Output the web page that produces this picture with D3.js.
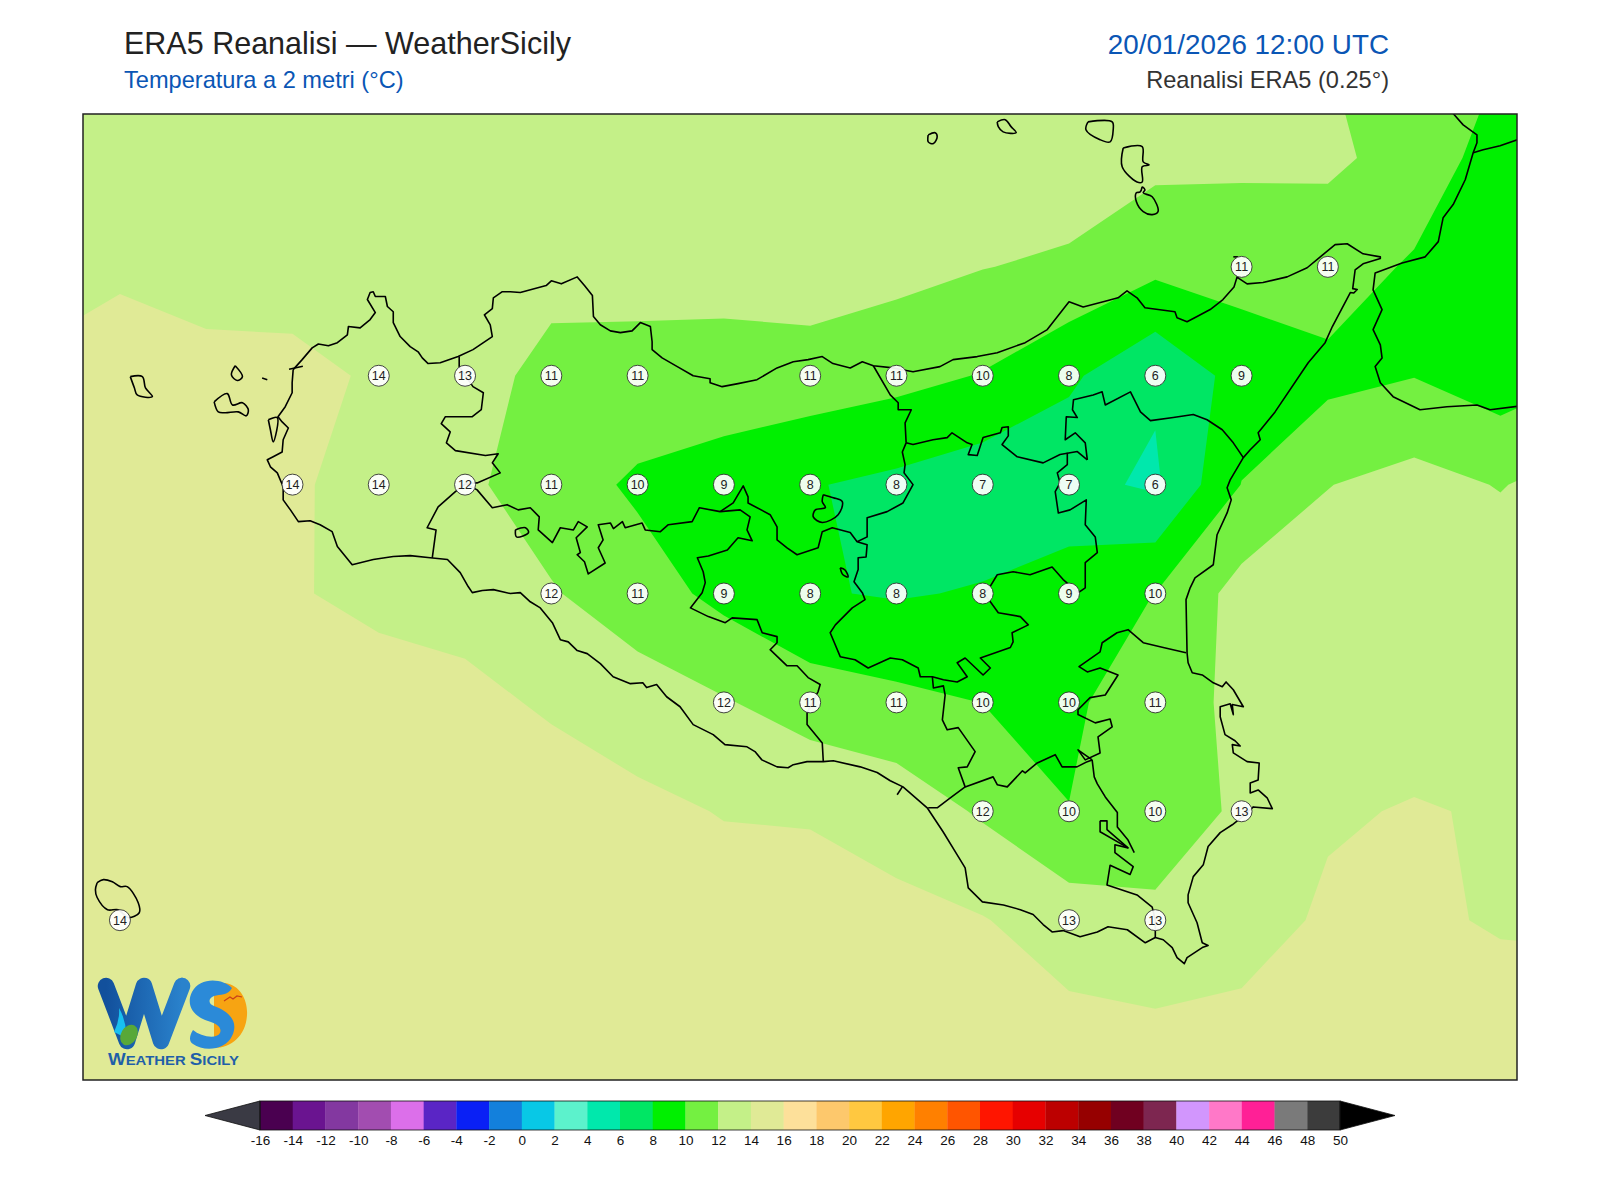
<!DOCTYPE html>
<html>
<head>
<meta charset="utf-8">
<title>ERA5 Reanalisi</title>
<script src="https://cdn.jsdelivr.net/npm/d3@7/dist/d3.min.js"></script>
<style>
  html, body { margin: 0; padding: 0; background: #fff; }
  svg { display: block; font-family: "Liberation Sans", Arial, sans-serif; }
</style>
</head>
<body>
<div id="canvas"></div>
<script>
var gridLons = [11.75,12,12.25,12.5,12.75,13,13.25,13.5,13.75,14,14.25,14.5,14.75,15,15.25,15.5,15.75,16,16.25];
var gridLats = [38.75,38.5,38.25,38,37.75,37.5,37.25,37,36.75,36.5,36.25];
var t3875 = [13,13,13,13,13,13,13,13,13,13,13,13,13,12.8,12.6,12,11.4,10.1,8.5];
var t3850 = [13,13,13,13,13,13,13,13,13,13,13,13.1,13.1,12.5,12.36,12.28,11.45,8.86,8.5];
var t3825 = [13.5,13.6,13.2,13.2,13.2,13,12.7,12.6,12.9,13.06,12.6,12.05,11.7,10.5,10.8,11.1,9.72,8.5,8.5];
var t3800 = [14.2,15.2,14.6,14.5,13.76,12.9,11.35,11.4,11,11.1,10.6,9.9,8.35,6.3,8.75,9.45,9.95,8.9,9.95];
var t3775 = [15.2,15.4,15,14.15,13.57,12.37,11,9.67,9.2,8.12,7.55,6.8,6.55,5.7,10.05,11.95,12.68,11.9,13];
var t3750 = [15.3,15.3,15,14.15,13.55,13.4,12.15,10.95,9.45,8.14,7.85,8.15,9.1,10.02,12.73,13,12.9,13.3,13.6];
var t3725 = [15.4,15.4,15.2,15,14.8,14.4,13.8,12.92,12.16,11.05,10.5,9.98,9.7,11,12.48,13.4,13,13.4,13.8];
var t3700 = [15.5,15.5,15.4,15.3,15.2,15,14.8,14.5,13.9,13.8,13.2,11.75,10.03,10.2,12.54,13.75,14.15,13.8,13.9];
var t3675 = [15.6,15.6,15.5,15.5,15.5,15.4,15.3,15.2,15,15,14.5,14.1,13.03,12.7,13,14.35,14.3,13.83,13.8];
var t3650 = [15.6,15.6,15.6,15.6,15.6,15.6,15.6,15.6,15.6,15.6,15.4,15.2,14.52,14.3,14.6,15,15,14.8,14.6];
var t3625 = [15.5,15.5,15.5,15.5,15.5,15.5,15.5,15.5,15.5,15.5,15.5,15.5,15.5,15.5,15.5,15.5,15.5,15.5,15.5];

// printed values on the white circles
var stationLon = [15.25,15.5,
  12.75,13,13.25,13.5,14,14.25,14.5,14.75,15,15.25,
  12.5,12.75,13,13.25,13.5,13.75,14,14.25,14.5,14.75,15,
  13.25,13.5,13.75,14,14.25,14.5,14.75,15,
  13.75,14,14.25,14.5,14.75,15,
  14.5,14.75,15,15.25,
  12,14.75,15];
var stationLat = [38.25,38.25,
  38,38,38,38,38,38,38,38,38,38,
  37.75,37.75,37.75,37.75,37.75,37.75,37.75,37.75,37.75,37.75,37.75,
  37.5,37.5,37.5,37.5,37.5,37.5,37.5,37.5,
  37.25,37.25,37.25,37.25,37.25,37.25,
  37,37,37,37,
  36.75,36.75,36.75];
var stationTemp = [11,11,
  14,13,11,11,11,11,10,8,6,9,
  14,14,12,11,10,9,8,8,7,7,6,
  12,11,9,8,8,8,9,10,
  12,11,11,10,10,11,
  12,10,10,13,
  14,13,13];

// colour bar
var levels = [-16,-14,-12,-10,-8,-6,-4,-2,0,2,4,6,8,10,12,14,16,18,20,22,24,26,28,30,32,34,36,38,40,42,44,46,48,50];
var levelColors = ["#4a0050","#6a1490","#8338a0","#a24db0","#dc6fea","#5a25c5","#0a20f5","#1380dc","#08c8e6","#5cf2cc","#00e8ac","#00e664","#00f000","#74f041","#c4f088","#e0ea96","#fde09a","#fdc86c","#ffc840","#ffa500","#ff8000","#ff5500","#ff1500","#e60000","#bc0000","#960000","#700020","#7d2650","#d296fd","#ff78c8","#ff2096","#7a7a7a","#3c3c3c"];
var underColor = "#3a3a44";
var overColor = "#000000";

// coast of Sicily, lon/lat, clockwise from Trapani
var coastSicily = [[12.502,38.014],[12.528,38.037],[12.557,38.064],[12.575,38.073],[12.604,38.069],[12.630,38.076],[12.659,38.094],[12.662,38.113],[12.696,38.110],[12.725,38.129],[12.740,38.145],[12.717,38.175],[12.725,38.191],[12.734,38.193],[12.740,38.182],[12.769,38.182],[12.775,38.159],[12.792,38.147],[12.792,38.122],[12.812,38.090],[12.841,38.067],[12.864,38.055],[12.876,38.041],[12.893,38.028],[12.928,38.030],[12.980,38.044],[13.023,38.060],[13.079,38.090],[13.073,38.117],[13.056,38.140],[13.079,38.154],[13.082,38.179],[13.108,38.193],[13.131,38.193],[13.160,38.191],[13.235,38.207],[13.250,38.218],[13.279,38.211],[13.325,38.227],[13.346,38.207],[13.369,38.184],[13.372,38.136],[13.392,38.117],[13.421,38.103],[13.450,38.099],[13.484,38.103],[13.508,38.122],[13.537,38.113],[13.542,38.078],[13.542,38.060],[13.571,38.041],[13.615,38.021],[13.661,38.000],[13.710,37.993],[13.710,37.984],[13.745,37.975],[13.791,37.982],[13.846,37.991],[13.904,38.018],[13.951,38.032],[13.994,38.037],[14.035,38.044],[14.066,38.028],[14.116,38.018],[14.151,38.032],[14.183,38.023],[14.240,38.018],[14.298,38.009],[14.376,38.021],[14.414,38.037],[14.484,38.044],[14.542,38.053],[14.623,38.076],[14.687,38.106],[14.750,38.170],[14.791,38.158],[14.860,38.172],[14.892,38.179],[14.918,38.195],[14.947,38.179],[14.970,38.156],[15.057,38.147],[15.063,38.133],[15.092,38.124],[15.121,38.136],[15.159,38.152],[15.196,38.175],[15.228,38.204],[15.237,38.227],[15.243,38.223],[15.266,38.211],[15.312,38.214],[15.382,38.227],[15.440,38.248],[15.478,38.273],[15.521,38.301],[15.556,38.303],[15.602,38.280],[15.652,38.273],[15.652,38.269],[15.602,38.257],[15.579,38.243],[15.572,38.200],[15.585,38.198],[15.575,38.190],[15.565,38.191],[15.513,38.113],[15.492,38.076],[15.443,38.030],[15.347,37.917],[15.298,37.869],[15.304,37.853],[15.275,37.830],[15.255,37.812],[15.217,37.761],[15.208,37.743],[15.220,37.715],[15.208,37.685],[15.179,37.635],[15.168,37.566],[15.115,37.536],[15.101,37.513],[15.089,37.486],[15.092,37.364],[15.095,37.341],[15.107,37.318],[15.136,37.313],[15.168,37.295],[15.194,37.286],[15.205,37.297],[15.226,37.279],[15.255,37.240],[15.223,37.245],[15.226,37.222],[15.217,37.247],[15.188,37.240],[15.188,37.217],[15.202,37.176],[15.231,37.162],[15.246,37.150],[15.223,37.153],[15.226,37.134],[15.266,37.114],[15.301,37.111],[15.298,37.072],[15.275,37.065],[15.275,37.042],[15.298,37.049],[15.324,37.031],[15.339,37.006],[15.284,37.010],[15.252,36.987],[15.223,36.969],[15.188,36.951],[15.153,36.919],[15.139,36.877],[15.110,36.850],[15.095,36.808],[15.095,36.790],[15.121,36.744],[15.136,36.698],[15.153,36.692],[15.136,36.687],[15.092,36.664],[15.084,36.650],[15.063,36.664],[15.049,36.687],[15.023,36.705],[15.000,36.710],[14.971,36.698],[14.919,36.728],[14.863,36.735],[14.832,36.723],[14.782,36.712],[14.733,36.726],[14.701,36.723],[14.675,36.740],[14.646,36.763],[14.609,36.774],[14.560,36.785],[14.499,36.792],[14.458,36.824],[14.449,36.870],[14.426,36.900],[14.385,36.953],[14.339,37.008],[14.269,37.056],[14.232,37.070],[14.194,37.089],[14.145,37.102],[14.067,37.116],[14.038,37.114],[13.991,37.114],[13.951,37.107],[13.936,37.100],[13.904,37.102],[13.860,37.118],[13.840,37.137],[13.817,37.148],[13.753,37.153],[13.719,37.176],[13.661,37.199],[13.623,37.240],[13.584,37.263],[13.555,37.291],[13.526,37.284],[13.515,37.295],[13.479,37.293],[13.429,37.309],[13.392,37.339],[13.354,37.362],[13.325,37.369],[13.299,37.389],[13.276,37.394],[13.253,37.433],[13.218,37.467],[13.189,37.481],[13.160,37.502],[13.131,37.500],[13.082,37.509],[13.050,37.507],[13.021,37.502],[13.009,37.516],[12.986,37.548],[12.949,37.578],[12.899,37.582],[12.841,37.587],[12.792,37.585],[12.734,37.578],[12.673,37.566],[12.630,37.608],[12.615,37.642],[12.580,37.658],[12.551,37.667],[12.517,37.665],[12.494,37.692],[12.473,37.715],[12.473,37.745],[12.456,37.777],[12.436,37.791],[12.427,37.807],[12.444,37.814],[12.470,37.825],[12.473,37.853],[12.488,37.880],[12.470,37.894],[12.458,37.906],[12.479,37.929],[12.499,37.961],[12.499,37.984],[12.502,38.014]];
var coastCalabria = [[15.863,38.602],[15.892,38.576],[15.932,38.553],[15.932,38.535],[15.921,38.512],[15.898,38.450],[15.863,38.393],[15.834,38.363],[15.820,38.308],[15.782,38.273],[15.715,38.259],[15.637,38.236],[15.631,38.197],[15.657,38.152],[15.631,38.106],[15.652,38.071],[15.657,38.041],[15.637,38.021],[15.652,37.984],[15.689,37.952],[15.767,37.922],[15.845,37.929],[15.932,37.933],[15.970,37.922],[16.060,37.931]];
var borderCalabria = [[15.921,38.512],[15.950,38.519],[15.999,38.528],[16.060,38.545]];
var spitTrapani = [[12.490,38.015],[12.530,38.022]];
var spitMilazzo = [[15.226,38.273],[15.240,38.273]];

// islands and lakes, drawn rounded
var islandMarettimo = [[12.030,37.998],[12.065,37.998],[12.074,37.972],[12.094,37.952],[12.050,37.956],[12.042,37.972],[12.030,37.998]];
var islandFavignana = [[12.273,37.940],[12.311,37.959],[12.326,37.933],[12.355,37.938],[12.372,37.922],[12.366,37.908],[12.343,37.917],[12.305,37.915],[12.285,37.917],[12.273,37.940]];
var islandLevanzo = [[12.334,38.023],[12.355,37.998],[12.340,37.989],[12.323,38.002],[12.334,38.023]];
var islandFormica = [[12.412,37.995],[12.427,37.991]];
var islandStagnone = [[12.430,37.899],[12.456,37.904],[12.444,37.848],[12.436,37.876],[12.430,37.899]];
var islandAlicudi = [[14.342,38.553],[14.362,38.558],[14.368,38.549],[14.357,38.533],[14.342,38.537],[14.342,38.553]];
var islandFilicudi = [[14.542,38.583],[14.565,38.588],[14.582,38.572],[14.597,38.558],[14.559,38.560],[14.545,38.572],[14.542,38.583]];
var islandSalina = [[14.805,38.583],[14.875,38.583],[14.878,38.565],[14.869,38.537],[14.840,38.542],[14.799,38.565],[14.805,38.583]];
var islandLipari = [[14.907,38.523],[14.962,38.526],[14.965,38.491],[14.982,38.484],[14.962,38.480],[14.962,38.445],[14.947,38.445],[14.904,38.480],[14.907,38.523]];
var islandVulcano = [[14.962,38.434],[14.970,38.427],[14.965,38.420],[14.991,38.411],[15.008,38.377],[14.991,38.370],[14.965,38.377],[14.945,38.400],[14.945,38.420],[14.956,38.422],[14.962,38.434]];
var islandPantelleria = [[11.934,36.836],[11.952,36.843],[11.978,36.838],[12.001,36.827],[12.021,36.827],[12.053,36.790],[12.056,36.767],[12.024,36.756],[11.995,36.774],[11.964,36.774],[11.934,36.802],[11.929,36.820],[11.934,36.836]];
var lakeArancio = [[13.146,37.646],[13.175,37.651],[13.184,37.640],[13.149,37.630],[13.146,37.646]];
var lakePergusa = [[14.087,37.559],[14.101,37.554],[14.110,37.538],[14.095,37.543],[14.087,37.559]];
var enclaveEnna = [[14.038,37.727],[14.067,37.720],[14.093,37.711],[14.081,37.681],[14.035,37.663],[14.009,37.676],[14.015,37.692],[14.044,37.697],[14.035,37.711],[14.038,37.727]];
var tickGela = [[14.252,37.038],[14.267,37.056]];

// province borders
var borderTpPa = [[12.983,38.044],[12.983,38.021],[13.023,37.975],[13.053,37.961],[13.047,37.922],[13.021,37.906],[12.995,37.906],[12.943,37.906],[12.931,37.890],[12.957,37.871],[12.946,37.846],[12.972,37.828],[13.059,37.817],[13.096,37.821],[13.079,37.800],[13.102,37.777],[13.035,37.754],[13.001,37.752]];
var borderTpAg = [[13.001,37.752],[12.972,37.734],[12.922,37.699],[12.890,37.651],[12.916,37.646],[12.905,37.582]];
var borderPaAg = [[13.001,37.752],[13.035,37.738],[13.079,37.697],[13.122,37.704],[13.154,37.692],[13.189,37.697],[13.215,37.676],[13.212,37.646],[13.253,37.617],[13.276,37.651],[13.314,37.646],[13.328,37.665],[13.354,37.653],[13.322,37.628],[13.334,37.594],[13.325,37.589],[13.346,37.573],[13.357,37.545],[13.406,37.570],[13.386,37.605],[13.400,37.623],[13.386,37.658],[13.421,37.662],[13.430,37.649],[13.456,37.665],[13.464,37.651],[13.513,37.662],[13.522,37.646],[13.566,37.642],[13.589,37.658],[13.658,37.665],[13.679,37.697],[13.739,37.688]];
var borderPaCl = [[13.739,37.688],[13.777,37.708],[13.806,37.747],[13.820,37.722],[13.820,37.708],[13.884,37.681],[13.904,37.653],[13.904,37.623],[13.933,37.605],[13.962,37.589],[14.023,37.605],[14.035,37.642],[14.064,37.651],[14.116,37.640],[14.136,37.619]];
var borderAgCl = [[13.739,37.688],[13.797,37.692],[13.826,37.676],[13.817,37.646],[13.832,37.621],[13.791,37.628],[13.760,37.600],[13.705,37.586],[13.673,37.582],[13.690,37.550],[13.696,37.525],[13.687,37.502],[13.653,37.467],[13.705,37.447],[13.754,37.433],[13.774,37.444],[13.846,37.440],[13.861,37.410],[13.904,37.401],[13.904,37.387],[13.884,37.371],[13.933,37.334],[13.962,37.334],[13.994,37.307],[14.029,37.291],[14.023,37.275],[13.991,37.226],[13.991,37.199],[14.035,37.157],[14.038,37.114]];
var borderPaMe = [[14.183,38.023],[14.232,37.956],[14.255,37.938],[14.255,37.922],[14.293,37.922],[14.275,37.892],[14.278,37.846]];
var borderMeEn = [[14.278,37.846],[14.298,37.842],[14.356,37.853],[14.397,37.858],[14.411,37.869],[14.455,37.846],[14.469,37.842],[14.458,37.819],[14.484,37.817],[14.501,37.858],[14.551,37.869],[14.556,37.881],[14.574,37.883],[14.574,37.862],[14.556,37.842],[14.600,37.814],[14.675,37.800],[14.724,37.819],[14.774,37.826],[14.803,37.807]];
var borderMeCt = [[14.803,37.807],[14.797,37.846],[14.768,37.869],[14.739,37.853],[14.742,37.906],[14.774,37.904],[14.760,37.922],[14.763,37.945],[14.820,37.956],[14.846,37.963],[14.855,37.933],[14.928,37.963],[14.957,37.917],[14.986,37.897],[15.052,37.904],[15.110,37.911],[15.150,37.899],[15.194,37.876],[15.226,37.846],[15.255,37.812]];
var borderEnCl = [[14.278,37.846],[14.267,37.825],[14.275,37.796],[14.272,37.777],[14.298,37.750],[14.269,37.708],[14.223,37.688],[14.165,37.674],[14.165,37.630],[14.136,37.619],[14.165,37.612],[14.162,37.584],[14.139,37.582],[14.139,37.555],[14.127,37.527],[14.151,37.502],[14.159,37.486],[14.122,37.467],[14.073,37.428],[14.058,37.410],[14.087,37.355],[14.130,37.348],[14.168,37.329],[14.232,37.352],[14.267,37.348],[14.313,37.329],[14.319,37.309],[14.354,37.309],[14.386,37.302],[14.426,37.297],[14.455,37.309],[14.426,37.341],[14.449,37.352],[14.501,37.313],[14.522,37.329],[14.493,37.352],[14.580,37.376],[14.588,37.389],[14.585,37.410],[14.632,37.428],[14.609,37.447],[14.545,37.456],[14.522,37.481],[14.501,37.502],[14.516,37.509],[14.542,37.543],[14.588,37.550],[14.637,37.543],[14.701,37.561],[14.733,37.532],[14.777,37.502],[14.797,37.513],[14.797,37.571],[14.832,37.594],[14.826,37.630],[14.797,37.658],[14.800,37.715],[14.753,37.692],[14.719,37.685],[14.710,37.734],[14.724,37.754],[14.716,37.777],[14.745,37.796],[14.745,37.823]];
var borderClRg = [[14.354,37.309],[14.357,37.283],[14.386,37.288],[14.391,37.267],[14.383,37.210],[14.397,37.187],[14.429,37.192],[14.478,37.137],[14.455,37.102],[14.429,37.100],[14.449,37.056],[14.406,37.031],[14.368,37.008],[14.342,37.008]];
var borderRgCt = [[14.449,37.056],[14.530,37.079],[14.542,37.061],[14.571,37.056],[14.615,37.093],[14.623,37.088],[14.658,37.111],[14.710,37.130],[14.730,37.102],[14.773,37.102],[14.803,37.114],[14.817,37.118]];
var borderCtSr = [[15.089,37.364],[15.023,37.376],[14.965,37.387],[14.921,37.417],[14.889,37.410],[14.846,37.387],[14.840,37.366],[14.779,37.332],[14.803,37.320],[14.840,37.329],[14.892,37.313],[14.855,37.267],[14.811,37.261],[14.776,37.233],[14.776,37.222],[14.826,37.203],[14.869,37.212],[14.875,37.194],[14.834,37.171],[14.840,37.134],[14.797,37.118],[14.776,37.141],[14.817,37.118]];
var borderRgSr = [[14.817,37.118],[14.823,37.079],[14.832,37.063],[14.855,37.033],[14.890,36.997],[14.890,36.964],[14.921,36.934],[14.939,36.905]];
var borderSrSouth = [[14.840,36.978],[14.860,36.978],[14.860,36.958],[14.921,36.916],[14.883,36.923],[14.883,36.905],[14.936,36.873],[14.927,36.855],[14.869,36.876],[14.860,36.831],[14.947,36.808],[14.991,36.780],[15.000,36.750],[15.000,36.710]];
var lagoonSr = [[14.840,36.978],[14.840,36.953],[14.921,36.916]];

var mapLines = [coastSicily, coastCalabria, borderCalabria, spitTrapani, spitMilazzo, tickGela,
  borderTpPa, borderTpAg, borderPaAg, borderPaCl, borderAgCl, borderPaMe, borderMeEn, borderMeCt, borderEnCl, borderClRg, borderRgCt, borderCtSr, borderRgSr, borderSrSouth, lagoonSr];
var roundLines = [islandMarettimo, islandFavignana, islandLevanzo, islandFormica, islandStagnone,
  islandAlicudi, islandFilicudi, islandSalina, islandLipari, islandVulcano, islandPantelleria, lakeArancio, lakePergusa, enclaveEnna];

var width = 1600, height = 1200;
var body = d3.select("#canvas").append("svg").attr("width", width).attr("height", height);

//map frame in page pixels
var frame = {left: 83, right: 1517, top: 114, bottom: 1080};
var xScale = d3.scaleLinear().domain([11.893, 16.048]).range([frame.left, frame.right]);
var yScale = d3.scaleLinear().domain([38.601, 36.383]).range([frame.top, frame.bottom]);

body.append("clipPath").attr("id", "mapclip").append("rect")
    .attr("x", frame.left).attr("y", frame.top)
    .attr("width", frame.right - frame.left).attr("height", frame.bottom - frame.top);
var map = body.append("g").attr("clip-path", "url(#mapclip)");

//filled contours from the temperature grid
var rows = [t3875, t3850, t3825, t3800, t3775, t3750, t3725, t3700, t3675, t3650, t3625];
var flat = [].concat.apply([], rows);
var contours = d3.contours().size([gridLons.length, gridLats.length]).thresholds(levels.slice(0, -1))(flat);
var gridPath = d3.geoPath(d3.geoTransform({
  point: function(x, y){
    this.stream.point(xScale(gridLons[0] + (x - 0.5) * 0.25), yScale(gridLats[0] - (y - 0.5) * 0.25));
  }
}));
var colorOf = d3.scaleOrdinal().domain(levels.slice(0, -1)).range(levelColors);
map.selectAll("path.band").data(contours.filter(function(d){ return d.coordinates.length > 0; })).enter()
   .append("path")
   .attr("class", "band")
   .attr("d", gridPath)
   .attr("fill", function(d){ return colorOf(d.value); });

//coast and province lines
var genLine = d3.line().x(function(d){ return xScale(d[0]); }).y(function(d){ return yScale(d[1]); });
var genRound = d3.line().curve(d3.curveCatmullRom).x(function(d){ return xScale(d[0]); }).y(function(d){ return yScale(d[1]); });
map.selectAll("path.coast").data(mapLines).enter()
   .append("path")
   .attr("class", "coast")
   .attr("d", genLine)
   .attr("fill", "none")
   .attr("stroke", "#000")
   .attr("stroke-width", 1.6)
   .attr("stroke-linejoin", "round");
map.selectAll("path.island").data(roundLines).enter()
   .append("path")
   .attr("class", "island")
   .attr("d", genRound)
   .attr("fill", "none")
   .attr("stroke", "#000")
   .attr("stroke-width", 1.6);

//station circles
var stations = stationTemp.map(function(t, i){ return {lon: stationLon[i], lat: stationLat[i], temp: t}; });
var nodes = map.selectAll("g.station").data(stations).enter().append("g").attr("class", "station")
   .attr("transform", function(d){ return "translate(" + xScale(d.lon) + "," + yScale(d.lat) + ")"; });
nodes.append("circle").attr("r", 10.5).attr("fill", "#fff").attr("fill-opacity", 0.93).attr("stroke", "#333").attr("stroke-width", 0.9);
nodes.append("text").attr("text-anchor", "middle").attr("y", 4.5).attr("font-size", 12.5).attr("fill", "#222").text(function(d){ return d.temp; });

//logo, bottom left
var logo = body.append("g");
var logoGrad = body.append("linearGradient").attr("id", "wgrad").attr("x1", 0).attr("x2", 1).attr("y1", 0).attr("y2", 0);
logoGrad.append("stop").attr("offset", "0%").attr("stop-color", "#12509c");
logoGrad.append("stop").attr("offset", "100%").attr("stop-color", "#2a82cc");
logo.append("path").attr("d", "M225 983 C240 985 248 1000 247 1015 C246 1035 232 1048 214 1048 L214 985 Z").attr("fill", "#f7a412");
logo.append("path").attr("d", "M106 986 L127 1041 L144 986 L161 1041 L182 986 M182 986 L182.1 986")
    .attr("fill", "none").attr("stroke", "url(#wgrad)").attr("stroke-width", 16.5).attr("stroke-linejoin", "round").attr("stroke-linecap", "round");
logo.append("path").attr("d", "M114 1032 q6 -12 5 -24 q8 14 7 30 z").attr("fill", "#18c0f0");
logo.append("ellipse").attr("cx", 129).attr("cy", 1035).attr("rx", 8).attr("ry", 11).attr("fill", "#58a838").attr("transform", "rotate(30 129 1035)");
logo.append("path").attr("d", "M232 988 C222 978 200 977 192 992 C186 1004 192 1016 208 1021 C218 1024 222 1028 220 1033 C216 1040 200 1036 193 1030 C189 1036 189 1042 193 1044 C204 1052 226 1050 232 1036 C240 1020 226 1010 214 1006 C208 1004 208 998 214 996 C220 994 228 996 232 988 Z")
    .attr("fill", "#2b8ad8");
logo.append("path").attr("d", "M224 1001 l6 -4 l3 2 l4 -3 l5 1").attr("fill", "none").attr("stroke", "#c8401a").attr("stroke-width", 1.2);
var logoText = logo.append("text").attr("x", 108).attr("y", 1065).attr("font-weight", "bold").attr("fill", "#1f5fa8").attr("font-size", 13.5)
    .attr("textLength", 131).attr("lengthAdjust", "spacingAndGlyphs");
logoText.append("tspan").attr("font-size", 17).text("W");
logoText.append("tspan").text("EATHER ");
logoText.append("tspan").attr("font-size", 17).text("S");
logoText.append("tspan").text("ICILY");

//frame on top of the map
body.append("rect")
    .attr("x", frame.left).attr("y", frame.top)
    .attr("width", frame.right - frame.left).attr("height", frame.bottom - frame.top)
    .attr("fill", "none").attr("stroke", "#222").attr("stroke-width", 1.5);

//titles
body.append("text").attr("x", 124).attr("y", 54).attr("font-size", 30.5).attr("fill", "#222").text("ERA5 Reanalisi — WeatherSicily");
body.append("text").attr("x", 124).attr("y", 88).attr("font-size", 23.6).attr("fill", "#0a56b5").text("Temperatura a 2 metri (°C)");
body.append("text").attr("x", 1389).attr("y", 54).attr("text-anchor", "end").attr("font-size", 27.8).attr("fill", "#0a56b5").text("20/01/2026 12:00 UTC");
body.append("text").attr("x", 1389).attr("y", 88).attr("text-anchor", "end").attr("font-size", 23.6).attr("fill", "#333").text("Reanalisi ERA5 (0.25°)");

//colour bar with the two end arrows
var barTop = 1101, barBottom = 1130;
var barScale = d3.scaleLinear().domain([-16, 50]).range([260, 1340]);
body.selectAll("rect.level").data(levelColors).enter()
    .append("rect")
    .attr("class", "level")
    .attr("x", function(d, i){ return barScale(levels[i]); })
    .attr("y", barTop)
    .attr("width", function(d, i){ return barScale(levels[i + 1]) - barScale(levels[i]) + 0.3; })
    .attr("height", barBottom - barTop)
    .attr("fill", function(d){ return d; });
var barMid = (barTop + barBottom) / 2;
body.append("path").attr("d", d3.line()([[260, barTop], [205, barMid], [260, barBottom]]) + "Z").attr("fill", underColor).attr("stroke", "#111").attr("stroke-width", 0.8);
body.append("path").attr("d", d3.line()([[1340, barTop], [1395, barMid], [1340, barBottom]]) + "Z").attr("fill", overColor).attr("stroke", "#111").attr("stroke-width", 0.8);
body.append("rect").attr("x", 260).attr("y", barTop).attr("width", 1080).attr("height", barBottom - barTop).attr("fill", "none").attr("stroke", "#111").attr("stroke-width", 0.8);

//plain hyphen on the tick labels, no tick marks
var barAxis = body.append("g")
    .attr("transform", "translate(0," + barBottom + ")")
    .call(d3.axisBottom(barScale).tickValues(levels).tickFormat(function(d){ return String(d); }).tickSize(0).tickPadding(5));
barAxis.select(".domain").remove();
barAxis.selectAll("text").attr("font-size", 13.5).attr("font-family", "'Liberation Sans', Arial, sans-serif").attr("fill", "#111");
</script>
</body>
</html>
